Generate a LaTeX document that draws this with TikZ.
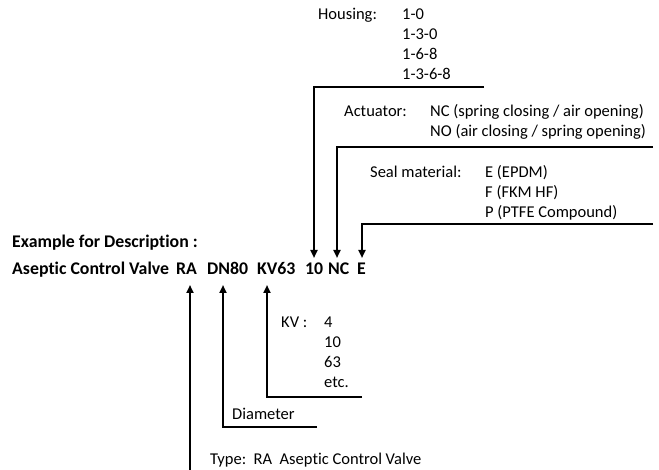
\documentclass[tikz,border=0pt]{standalone}
\usepackage{fontspec}
\setmainfont{Carlito}[Ligatures=NoCommon]
\usetikzlibrary{arrows.meta}
\tikzset{
  lbl/.style={anchor=base west, inner sep=0pt, font=\fontsize{16.5pt}{20pt}\selectfont},
  bld/.style={anchor=base west, inner sep=0pt, font=\fontsize{17.8pt}{21pt}\selectfont\bfseries},
  lead/.style={line width=2pt, -{Triangle[length=8pt,width=7pt]}},
  plain/.style={line width=2pt}
}
\begin{document}
\begin{tikzpicture}[x=1pt,y=-1pt]
\useasboundingbox (0,0) rectangle (659,470);
% Housing
\node[lbl] (hous) at (318,19.5) {Housing:};
\node[lbl] (h1) at (402,19.5) {1-0};
\node[lbl] (h2) at (402,39.5) {1-3-0};
\node[lbl] (h3) at (402,59.5) {1-6-8};
\node[lbl] (h4) at (402,79.5) {1-3-6-8};
% Actuator
\node[lbl] (act) at (344,116.5) {Actuator:};
\node[lbl] (a1) at (430,116.5) {NC (spring closing / air opening)};
\node[lbl] (a2) at (430,136.5) {NO (air closing / spring opening)};
% Seal
\node[lbl] (seal) at (370,178) {Seal material:};
\node[lbl] (s1) at (485,178) {E (EPDM)};
\node[lbl] (s2) at (485,198) {F (FKM HF)};
\node[lbl] (s3) at (485,218) {P (PTFE Compound)};
% Main
\node[bld] (ex) at (12,248) {Example for Description :};
\node[bld] (acv) at (12,275) {Aseptic Control Valve};
\node[bld] (ra) at (176,275) {RA};
\node[bld] (dn) at (207,275) {DN80};
\node[bld] (kv) at (257,275) {KV63};
\node[bld] (ten) at (305,275) {10};
\node[bld] (nc) at (328,275) {NC};
\node[bld] (e) at (357,275) {E};
% KV
\node[lbl] (kvl) at (281,327.5) {KV :};
\node[lbl] (k1) at (324,327.5) {4};
\node[lbl] (k2) at (324,347.5) {10};
\node[lbl] (k3) at (324,367.5) {63};
\node[lbl] (k4) at (324,387.5) {etc.};
% Diameter / Type
\node[lbl] (dia) at (232,420) {Diameter};
\node[lbl] (typ) at (210,464) {Type:\ \ RA\ \ Aseptic Control Valve};
% coordinates
\coordinate (hE) at (484,87);
\coordinate (hC) at (314,87);
\coordinate (hT) at (314,258);
\coordinate (aE) at (653,147);
\coordinate (aC) at (337,147);
\coordinate (aT) at (337,258);
\coordinate (sE) at (653,224);
\coordinate (sC) at (362,224);
\coordinate (sT) at (362,258);
\coordinate (kE) at (362,397);
\coordinate (kC) at (267,397);
\coordinate (kT) at (267,285);
\coordinate (dE) at (317,427);
\coordinate (dC) at (223,427);
\coordinate (dT) at (223,285);
\coordinate (rB) at (190,470);
\coordinate (rT) at (190,285);
% leaders
\draw[lead] (hE) -- (hC) -- (hT);
\draw[lead] (aE) -- (aC) -- (aT);
\draw[lead] (sE) -- (sC) -- (sT);
\draw[lead] (kE) -- (kC) -- (kT);
\draw[lead] (dE) -- (dC) -- (dT);
\draw[lead] (rB) -- (rT);
\end{tikzpicture}
\end{document}
